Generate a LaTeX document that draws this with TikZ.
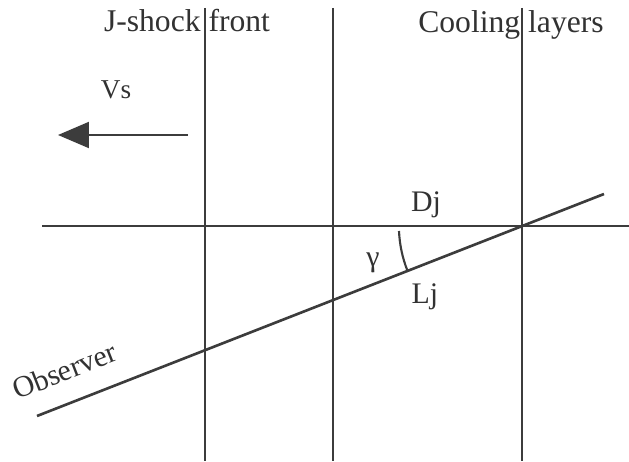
\documentclass[tikz,border=0pt]{standalone}
\usepackage{fontspec}
\setmainfont{Liberation Serif}
\usepackage{tikz}
\usetikzlibrary{arrows.meta, calc}
\definecolor{inkdark}{RGB}{60, 60, 60}
\definecolor{textdark}{RGB}{50, 50, 50}

\begin{document}
\begin{tikzpicture}[
    x=0.02cm, y=-0.02cm,
    layer/.style={draw=inkdark, line width=1.2pt},
    thinlayer/.style={draw=inkdark, line width=0.9pt},
    sightline/.style={draw=inkdark, line width=1.5pt},
    title/.style={font=\fontsize{18}{21}\selectfont, text=textdark, inner sep=0pt, anchor=base},
    tag/.style={font=\fontsize{17}{20}\selectfont, text=textdark, inner sep=0pt, anchor=base},
    arrow/.style={-{Triangle[length=0.62cm, width=0.52cm]}, line width=1.2pt, draw=inkdark, fill=inkdark}
]
    \useasboundingbox (0,0) rectangle (629,462);

    % front, middle and cooling planes
    \coordinate (fronttop) at (205,8);
    \coordinate (frontbot) at (205,461);
    \coordinate (midtop) at (333,8);
    \coordinate (midbot) at (333,461);
    \coordinate (cooltop) at (522,8);
    \coordinate (coolbot) at (522,461);
    \coordinate (axisleft) at (42,226);
    \coordinate (axisright) at (629,226);
    \coordinate (obsstart) at (37,416);
    \coordinate (obsend) at (604,194);
    \coordinate (vsstart) at (188,135);
    \coordinate (vsend) at (58,135);
    \coordinate (cross) at (522,226);

    \draw[layer] (fronttop) -- (frontbot);
    \draw[layer] (midtop) -- (midbot);
    \draw[thinlayer] (cooltop) -- (coolbot);
    \draw[thinlayer] (axisleft) -- (axisright);
    \draw[sightline] (obsstart) -- (obsend);
    \draw[arrow] (vsstart) -- (vsend);

    % angle between the planes and the line of sight
    \draw[layer] ($(cross)+(-123,5)$) arc[start angle=182.5, end angle=201.4, radius=2.46cm];

    \node[title] (shock) at (187,32) {J-shock front};
    \node[title] (cooling) at (511,33) {Cooling layers};
    \node[tag, font=\fontsize{15.5}{18}\selectfont] (vs) at (116,99) {Vs};
    \node[tag] (dj) at (426,212) {Dj};
    \node[tag] (lj) at (425,304) {Lj};
    \node[tag] (gamma) at (373,267) {γ};
    \node[tag, rotate=21.4] (observer) at (68,380) {Observer};
\end{tikzpicture}
\end{document}
